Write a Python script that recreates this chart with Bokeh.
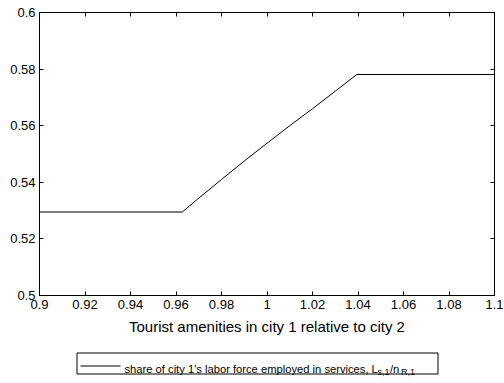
from bokeh.plotting import figure
from bokeh.models import Range1d, FixedTicker, LinearAxis, CustomJSTickFormatter
from bokeh.layouts import column
from bokeh.core.properties import value
from bokeh.embed import file_html
from bokeh.resources import INLINE

# data
x_vals = [0.90, 0.9628, 0.970, 0.980, 0.990, 1.000, 1.010, 1.020, 1.030, 1.0395, 1.10]
y_vals = [0.5295, 0.5295, 0.5344, 0.5410, 0.5475, 0.5538, 0.5600, 0.5660, 0.5722, 0.5781, 0.5781]

x_ticks = [0.9, 0.92, 0.94, 0.96, 0.98, 1.0, 1.02, 1.04, 1.06, 1.08, 1.1]
x_tick_labels = ["0.9", "0.92", "0.94", "0.96", "0.98", "1", "1.02", "1.04", "1.06", "1.08", "1.1"]
y_ticks = [0.5, 0.52, 0.54, 0.56, 0.58, 0.6]
y_tick_labels = ["0.5", "0.52", "0.54", "0.56", "0.58", "0.6"]

x_label = "Tourist amenities in city 1 relative to city 2"
legend_main = "share of city 1's labor force employed in services, L"
legend_sub1 = "s,1"
legend_mid = "/n"
legend_sub2 = "R,1"

FONT = "Liberation Sans"
W = 504
MAIN_H = 340
LEG_H = 383 - MAIN_H
FL, FR, FT = 39, 10, 12
FB = MAIN_H - 295

p = figure(width=W, height=MAIN_H, output_backend="svg", toolbar_location=None,
           x_range=Range1d(0.9, 1.1), y_range=Range1d(0.5, 0.6),
           min_border_left=FL, min_border_right=FR, min_border_top=FT, min_border_bottom=FB,
           x_axis_type=None, y_axis_type=None)
p.grid.visible = False
p.outline_line_color = "black"
p.background_fill_color = "white"
p.border_fill_color = "white"


def style_axis(ax, ticks, labels, show):
    ax.ticker = FixedTicker(ticks=ticks)
    ax.major_tick_in = 4
    ax.major_tick_out = 0
    ax.minor_tick_line_color = None
    ax.axis_line_color = "black"
    ax.major_tick_line_color = "black"
    if show:
        ax.major_label_overrides = dict(zip(ticks, labels))
        ax.major_label_text_font = FONT
        ax.major_label_text_font_size = "13px"
        ax.major_label_text_color = "black"
        ax.major_label_standoff = 4
    else:
        ax.formatter = CustomJSTickFormatter(code="return ''")
        ax.major_label_standoff = 0


bottom = LinearAxis()
style_axis(bottom, x_ticks, x_tick_labels, True)
bottom.axis_label = x_label
bottom.axis_label_text_font = FONT
bottom.axis_label_text_font_size = "15px"
bottom.axis_label_text_font_style = "normal"
bottom.axis_label_text_color = "black"
bottom.axis_label_standoff = 6
p.add_layout(bottom, "below")

left = LinearAxis()
style_axis(left, y_ticks, y_tick_labels, True)
p.add_layout(left, "left")

top = LinearAxis()
style_axis(top, x_ticks, x_tick_labels, False)
p.add_layout(top, "above")

right = LinearAxis()
style_axis(right, y_ticks, y_tick_labels, False)
p.add_layout(right, "right")

p.line(x_vals, y_vals, line_color="black", line_width=1)

# legend panel: a second figure; its frame is aligned with the main frame,
# so its ranges are set so that data units equal canvas pixels (y downward)
leg = figure(width=W, height=LEG_H, output_backend="svg", toolbar_location=None,
             x_range=Range1d(FL, W - FR), y_range=Range1d(LEG_H, 0),
             min_border_left=FL, min_border_right=FR, min_border_top=0, min_border_bottom=0,
             x_axis_type=None, y_axis_type=None)
leg.grid.visible = False
leg.outline_line_color = None
leg.background_fill_color = "white"
leg.border_fill_color = "white"

off = MAIN_H  # canvas y of the legend panel's top
box_l, box_r, box_t, box_b = 76.5, 437.5, 352.5 - off, 373.5 - off
leg.quad(left=[box_l], right=[box_r], top=[box_t], bottom=[box_b],
         fill_color="white", line_color="black", line_width=1)
leg.segment(x0=[80], y0=[365.5 - off], x1=[120], y1=[365.5 - off], line_color="black", line_width=1)

base = 368 - off
subbase = 371.5 - off
leg.text(x=[124], y=[base], text=[legend_main], text_font=value(FONT), text_font_size=value("11.2px"),
         text_baseline="alphabetic", text_color="black")
leg.text(x=[377], y=[subbase], text=[legend_sub1], text_font=value(FONT), text_font_size=value("9px"),
         text_baseline="alphabetic", text_color="black")
leg.text(x=[389.5], y=[base], text=[legend_mid], text_font=value(FONT), text_font_size=value("11.2px"),
         text_baseline="alphabetic", text_color="black")
leg.text(x=[400.5], y=[subbase], text=[legend_sub2], text_font=value(FONT), text_font_size=value("9px"),
         text_baseline="alphabetic", text_color="black")

layout = column(p, leg, spacing=0)
open("out.html", "w").write(file_html(layout, INLINE))
